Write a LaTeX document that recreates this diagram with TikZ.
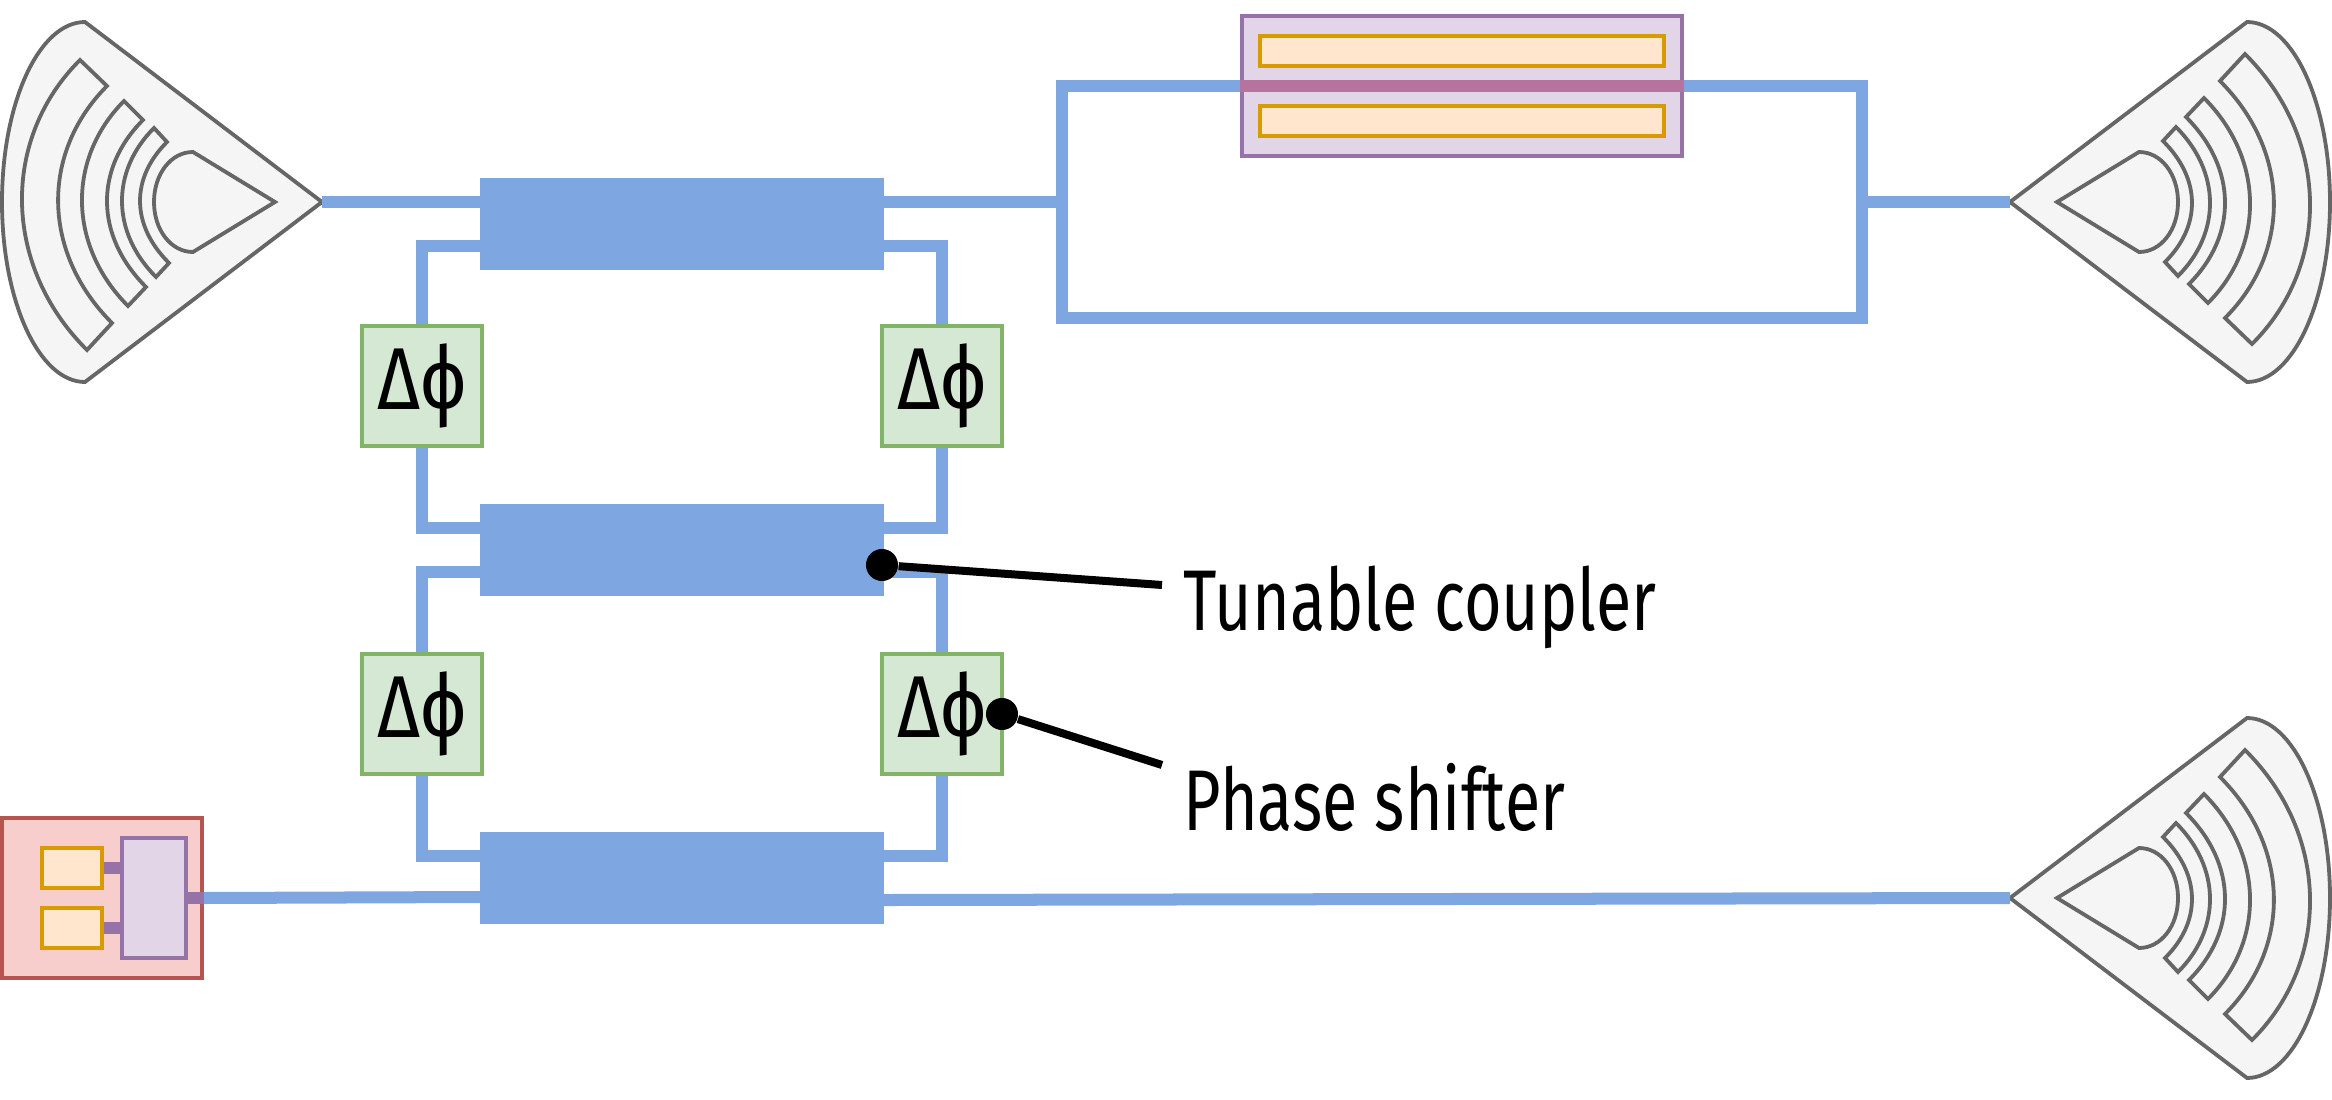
\documentclass[tikz,border=0pt]{standalone}
\usepackage{fontspec}
\newfontfamily\lblfont[FakeStretch=0.75]{Fira Sans}
\newfontfamily\phasefont[FakeStretch=0.84]{Fira Sans}
\definecolor{wgblue}{HTML}{7EA6E0}
\definecolor{antline}{HTML}{666666}
\definecolor{antfill}{HTML}{F5F5F5}
\definecolor{psline}{HTML}{82B366}
\definecolor{psfill}{HTML}{D5E8D4}
\definecolor{modline}{HTML}{9673A6}
\definecolor{modfill}{HTML}{E1D5E7}
\definecolor{elline}{HTML}{D79B00}
\definecolor{elfill}{HTML}{FFE6CC}
\definecolor{srcline}{HTML}{B85450}
\definecolor{srcfill}{HTML}{F8CECC}
\definecolor{stripcol}{HTML}{B5739D}
\tikzset{
  wg/.style={draw=wgblue,line width=.12cm},
  coupler/.style={fill=wgblue,inner sep=0,outer sep=0,minimum width=4.04cm,minimum height=.92cm},
  shifter/.style={draw=psline,fill=psfill,line width=.04cm,inner sep=0,minimum width=1.2cm,minimum height=1.2cm,font=\phasefont\fontsize{25}{30}\selectfont},
  modbox/.style={draw=modline,fill=modfill,line width=.04cm,inner sep=0},
  elbox/.style={draw=elline,fill=elfill,line width=.04cm,inner sep=0},
  srcbox/.style={draw=srcline,fill=srcfill,line width=.04cm,inner sep=0,minimum width=2cm,minimum height=1.6cm},
  pad/.style={draw=modline,line width=.12cm},
  callout/.style={line width=.08cm},
  dotmark/.style={circle,fill=black,inner sep=0,minimum size=.32cm},
  lbl/.style={anchor=base west,inner sep=0,font=\lblfont\fontsize{24.5}{30}\selectfont},
  antenna/.pic={
    \draw[draw=antline,fill=antfill,line width=.038cm] (322,202) -- (85,22)
      .. controls (39,22) and (2,103) .. (2,202)
      .. controls (2,301) and (39,382) .. (85,382) -- cycle;
    \draw[draw=antline,line width=.038cm]
      (80,60) -- (107,86) .. controls (41,152) and (41,252) .. (112,323)
      -- (87,350) .. controls (1.5,265) and (1.5,138) .. cycle
      (124,101) -- (143,120) .. controls (94.5,168.5) and (94.5,235.5) .. (146,287)
      -- (128,306) .. controls (67.3,245) and (67.3,158) .. cycle
      (154,128) -- (167,142) .. controls (130.7,178) and (130.7,225) .. (169,263)
      -- (156,277) .. controls (111,232) and (111,171) .. cycle
      (275,202) -- (193,152) .. controls (171,152) and (154,174) .. (154,202)
      .. controls (154,230) and (171,252) .. (193,252) -- cycle;
    \coordinate (-apex) at (322,202);
  }
}
\begin{document}
\begin{tikzpicture}[x=.01cm,y=-.01cm]
  \useasboundingbox (0,0) rectangle (2332,1100);
  \pic (antA) at (0,0) {antenna};
  \pic[rotate=180] (antB) at (2332,404) {antenna};
  \pic[rotate=180] (antC) at (2332,1100) {antenna};
  % couplers and phase shifters
  \node[coupler] (cplTop) at (682,224) {};
  \node[coupler] (cplMid) at (682,550) {};
  \node[coupler] (cplBot) at (682,878) {};
  \node[shifter] (psTL) at (422,386) {Δϕ};
  \node[shifter] (psTR) at (942,386) {Δϕ};
  \node[shifter] (psBL) at (422,714) {Δϕ};
  \node[shifter] (psBR) at (942,714) {Δϕ};
  % top modulator
  \node[modbox,minimum width=4.4cm,minimum height=1.4cm] (mod) at (1462,86) {};
  \node[elbox,minimum width=4.04cm,minimum height=.3cm] (elU) at (1462,51) {};
  \node[elbox,minimum width=4.04cm,minimum height=.3cm] (elD) at (1462,121) {};
  \coordinate (loopW) at (1062,202);
  \coordinate (loopE) at (1862,202);
  \coordinate (loopSE) at (1862,318);
  \draw[wg] (mod.west) -| (loopW) |- (loopSE) |- (mod.east);
  \draw[draw=stripcol,line width=.12cm] (mod.west) -- (mod.east);
  \draw[wg] (antA-apex) -- (cplTop.west |- antA-apex);
  \draw[wg] (cplTop.east |- loopW) -- (loopW);
  \draw[wg] (loopE) -- (antB-apex);
  % arms
  \draw[wg] ([yshift=-.22cm]cplTop.west) -| (psTL.north);
  \draw[wg] ([yshift=-.22cm]cplTop.east) -| (psTR.north);
  \draw[wg] (psTL.south) |- ([yshift=.22cm]cplMid.west);
  \draw[wg] (psTR.south) |- ([yshift=.22cm]cplMid.east);
  \draw[wg] ([yshift=-.22cm]cplMid.west) -| (psBL.north);
  \draw[wg] ([yshift=-.22cm]cplMid.east) -| (psBR.north);
  \draw[wg] (psBL.south) |- ([yshift=.22cm]cplBot.west);
  \draw[wg] (psBR.south) |- ([yshift=.22cm]cplBot.east);
  % source
  \node[srcbox] (src) at (102,898) {};
  \node[modbox,minimum width=.64cm,minimum height=1.2cm] (mix) at (154,898) {};
  \node[elbox,minimum width=.6cm,minimum height=.4cm] (elA) at (72,868) {};
  \node[elbox,minimum width=.6cm,minimum height=.4cm] (elB) at (72,928) {};
  \draw[pad] (elA.east) -- (elA.east -| mix.west);
  \draw[pad] (elB.east) -- (elB.east -| mix.west);
  \draw[pad] (mix.east) -- (src.east);
  \draw[wg] (src.east) -- ([yshift=-.19cm]cplBot.west);
  \draw[wg] ([yshift=-.22cm]cplBot.east) -- (antC-apex);
  % labels
  \node[lbl] (tc) at (1183,630) {Tunable coupler};
  \node[lbl] (ps) at (1183,830) {Phase shifter};
  \node[dotmark] (dotC) at (882,565) {};
  \node[dotmark] (dotP) at (1002,714) {};
  \coordinate (tipC) at (1162,585);
  \coordinate (tipP) at (1162,765);
  \draw[callout] (dotC) -- (tipC);
  \draw[callout] (dotP) -- (tipP);
\end{tikzpicture}
\end{document}
